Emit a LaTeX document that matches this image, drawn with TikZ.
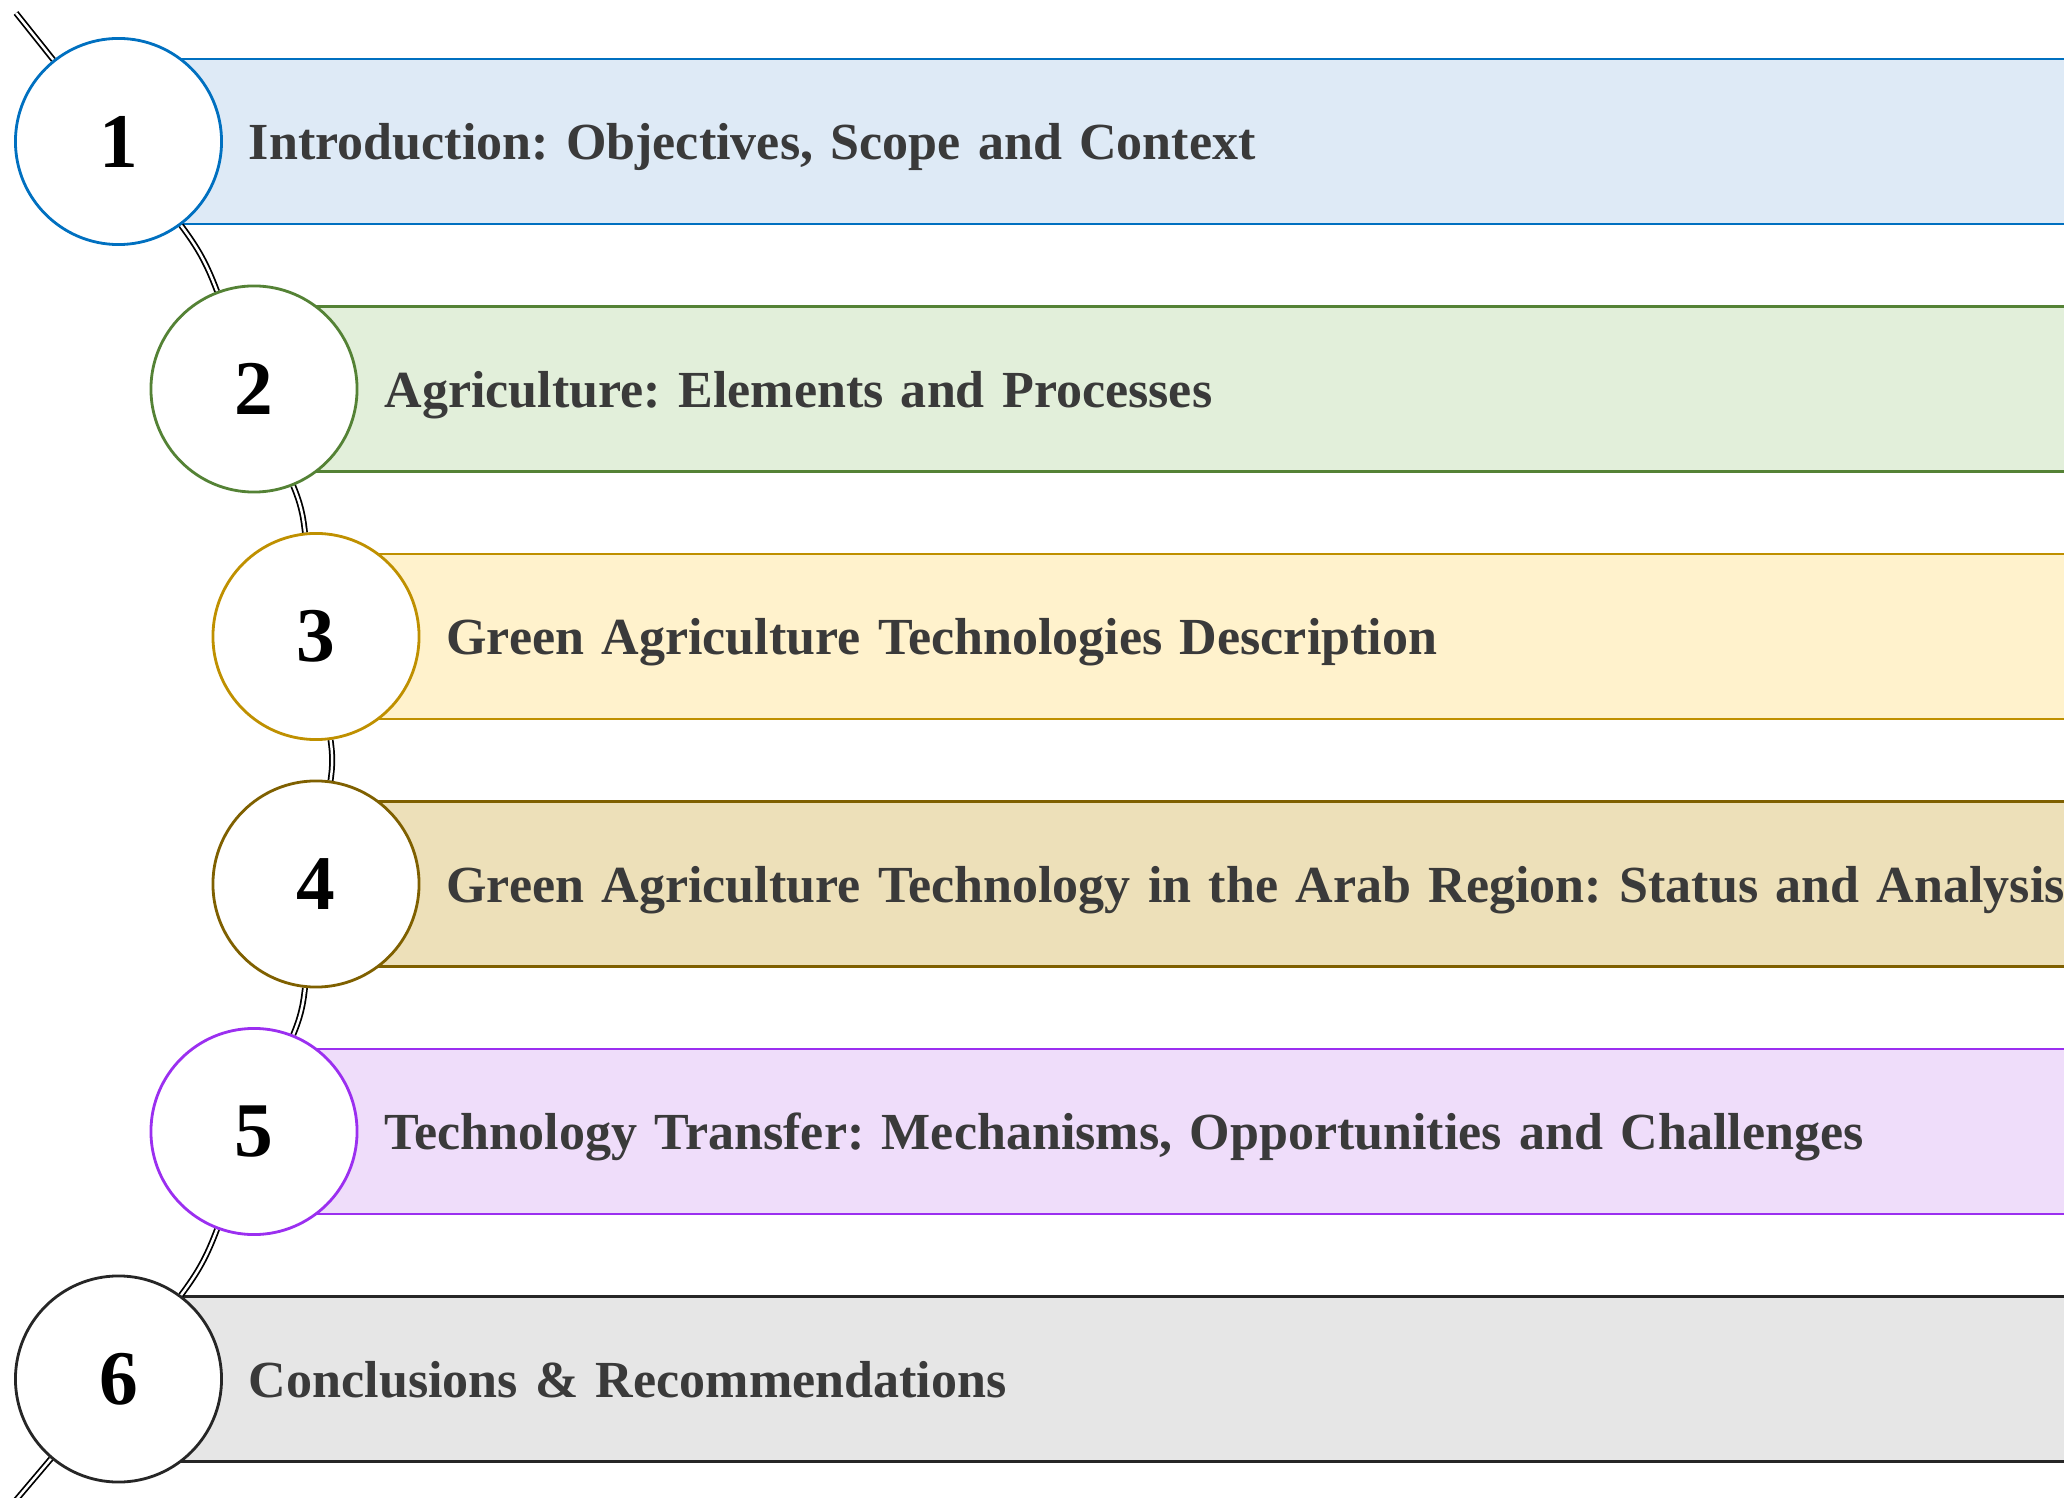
\documentclass[tikz,border=0pt]{standalone}
\usepackage{fontspec}
\setmainfont{Liberation Serif}
\usepackage{tikz}
\usetikzlibrary{backgrounds}

% --- Colores de las bandas ---
\definecolor{introLine}{HTML}{0070C0}
\definecolor{introFill}{HTML}{DEEAF6}
\definecolor{agriLine}{HTML}{548235}
\definecolor{agriFill}{HTML}{E2EFDA}
\definecolor{techLine}{HTML}{BF9000}
\definecolor{techFill}{HTML}{FFF2CC}
\definecolor{arabLine}{HTML}{7F6000}
\definecolor{arabFill}{HTML}{EDE0B9}
\definecolor{transLine}{HTML}{9B2FF0}
\definecolor{transFill}{HTML}{EFDDFA}
\definecolor{conclLine}{HTML}{262626}
\definecolor{conclFill}{HTML}{E6E6E6}
\definecolor{txtgray}{HTML}{3A3A3A}

\begin{document}
\begin{tikzpicture}[
        x=0.01cm, y=-0.01cm,
        num/.style={circle, draw, fill=white, line width=0.8pt, minimum size=2.06cm,
            inner sep=0pt, font=\fontsize{22}{26}\selectfont\bfseries},
        band/.style={draw, line width=0.8pt, anchor=west, minimum height=1.65cm,
            inner xsep=1.29cm, text width=18.5cm, text depth=0pt, align=left,
            text=txtgray, font=\fontsize{14.8}{18}\selectfont\bfseries\frenchspacing},
        link/.style={draw=black, double=white, line width=0.5pt, double distance=0.7pt}
    ]
        \useasboundingbox (0,0) rectangle (2064,1498);

        % --- Circulos numerados ---
        \node[num, draw=introLine] (n1) at (118.5,141.5) {1};
        \node[num, draw=agriLine]  (n2) at (254,389) {2};
        \node[num, draw=techLine]  (n3) at (316,636.5) {3};
        \node[num, draw=arabLine]  (n4) at (316,884) {4};
        \node[num, draw=transLine] (n5) at (254,1131.5) {5};
        \node[num, draw=conclLine] (n6) at (118.5,1379) {6};

        % Extremos de la linea guia
        \coordinate (start) at (16,13);
        \coordinate (finish) at (16,1500);

        \begin{scope}[on background layer]
            % --- Bandas con los titulos ---
            \node[band, draw=introLine, fill=introFill] (t1) at (n1.center)
                {Introduction: Objectives, Scope and Context};
            \node[band, draw=agriLine, fill=agriFill] (t2) at (n2.center)
                {Agriculture: Elements and Processes};
            \node[band, draw=techLine, fill=techFill] (t3) at (n3.center)
                {Green Agriculture Technologies Description};
            \node[band, draw=arabLine, fill=arabFill] (t4) at (n4.center)
                {Green Agriculture Technology in the Arab Region: Status and Analysis};
            \node[band, draw=transLine, fill=transFill] (t5) at (n5.center)
                {Technology Transfer: Mechanisms, Opportunities and Challenges};
            \node[band, draw=conclLine, fill=conclFill] (t6) at (n6.center)
                {Conclusions \& Recommendations};

            % --- Linea guia (doble) ---
            \draw[link] (start) -- (n1);
            \draw[link] (n1) to[bend left=8] (n2);
            \draw[link] (n2) to[bend left=8] (n3);
            \draw[link] (n3) to[bend left=8] (n4);
            \draw[link] (n4) to[bend left=8] (n5);
            \draw[link] (n5) to[bend left=8] (n6);
            \draw[link] (n6) -- (finish);
        \end{scope}

    \end{tikzpicture}
\end{document}
